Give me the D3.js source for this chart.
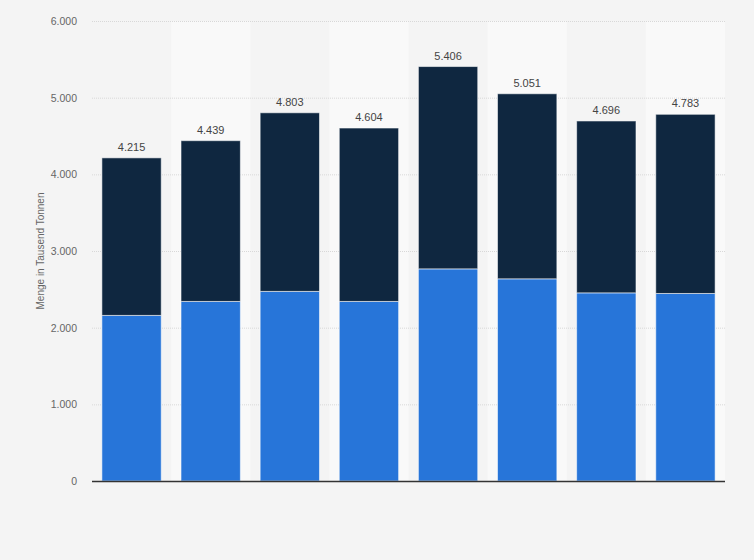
<!DOCTYPE html>
<html>
<head>
<meta charset="utf-8">
<script src="https://cdn.jsdelivr.net/npm/d3@7"></script>
<style>
  body { margin: 0; background: #f4f4f4; }
  svg { display: block; font-family: "Liberation Sans", Arial, sans-serif; }
</style>
</head>
<body>
<svg id="chart" width="754" height="560"></svg>
<script>
// categories are not labelled in the source chart
const categories = ["1", "2", "3", "4", "5", "6", "7", "8"];
const lowerValues = [2160, 2342, 2473, 2342, 2767, 2637, 2454, 2446];
const totals = [4215, 4439, 4803, 4604, 5406, 5051, 4696, 4783];
const upperValues = totals.map((t, i) => t - lowerValues[i]);
const yTicks = [0, 1000, 2000, 3000, 4000, 5000, 6000];
const yTitle = "Menge in Tausend Tonnen";

const width = 754, height = 560;
const margin = { top: 21, right: 29, bottom: 79, left: 92 };

const fmt = d3.formatLocale({ decimal: ",", thousands: ".", grouping: [3], currency: ["", "€"] }).format(",.0f");

const x = d3.scaleBand().domain(categories).range([margin.left, width - margin.right]).paddingInner(0.25).paddingOuter(0.125);
const y = d3.scaleLinear().domain([0, 6000]).range([height - margin.bottom, margin.top]);

const svg = d3.select("#chart");
svg.append("rect").attr("width", width).attr("height", height).attr("fill", "#f4f4f4");

// alternating column stripes
const step = x.step();
svg.append("g").selectAll("rect").data(categories.filter((d, i) => i % 2 === 1)).join("rect")
  .attr("x", d => x(d) - step * 0.125)
  .attr("y", y(6000))
  .attr("width", step)
  .attr("height", y(0) - y(6000))
  .attr("fill", "#f9f9f9");

// gridlines
svg.append("g").selectAll("line").data(yTicks.filter(d => d > 0)).join("line")
  .attr("x1", margin.left).attr("x2", width - margin.right)
  .attr("y1", d => y(d) + 0.5).attr("y2", d => y(d) + 0.5)
  .attr("stroke", "#d8d8d8").attr("stroke-dasharray", "1,1");

// y axis
const yAxis = g => g.attr("transform", `translate(${margin.left},0)`)
  .call(d3.axisLeft(y).tickValues(yTicks).tickFormat(fmt).tickSize(0).tickPadding(15))
  .call(g => g.select(".domain").remove())
  .call(g => g.selectAll("text").attr("fill", "#666").attr("font-size", "10.5px")
    .attr("font-family", "'Liberation Sans', Arial, sans-serif"));
svg.append("g").call(yAxis);

svg.append("text")
  .attr("transform", `translate(44,${(y(0) + y(6000)) / 2}) rotate(-90)`)
  .attr("text-anchor", "middle")
  .attr("fill", "#666").attr("font-size", "10px")
  .text(yTitle);

// stacked bars
const stackData = categories.map((c, i) => ({ cat: c, lower: lowerValues[i], upper: upperValues[i] }));
const series = d3.stack().keys(["lower", "upper"])(stackData);
const colors = { lower: "#2775d9", upper: "#0f2740" };

svg.append("g").selectAll("g").data(series).join("g")
  .attr("fill", d => colors[d.key])
  .selectAll("rect").data(d => d).join("rect")
  .attr("x", d => x(d.data.cat))
  .attr("y", d => y(d[1]))
  .attr("width", x.bandwidth())
  .attr("height", d => y(d[0]) - y(d[1]))
  .attr("stroke", "#ffffff").attr("stroke-opacity", 0.55).attr("stroke-width", 1);

// total labels
svg.append("g").selectAll("text").data(categories).join("text")
  .attr("x", d => x(d) + x.bandwidth() / 2)
  .attr("y", (d, i) => y(totals[i]) - 7)
  .attr("text-anchor", "middle")
  .attr("fill", "#444").attr("font-size", "11px")
  .text((d, i) => fmt(totals[i]));

// baseline
svg.append("line")
  .attr("x1", margin.left).attr("x2", width - margin.right)
  .attr("y1", y(0) + 0.5).attr("y2", y(0) + 0.5)
  .attr("stroke", "#333").attr("stroke-width", 1.5);
</script>
</body>
</html>
